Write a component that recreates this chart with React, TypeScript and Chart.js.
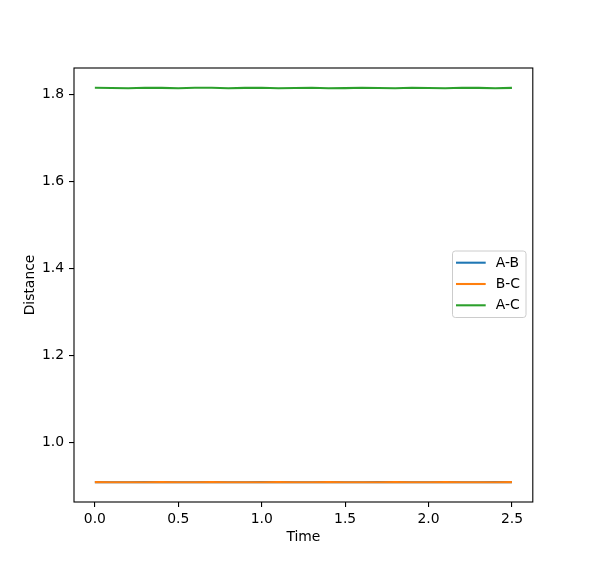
import React, { useEffect, useRef } from "react";
import { Chart, registerables } from "chart.js";

Chart.register(...registerables);

const times = [0.0, 0.1, 0.2, 0.3, 0.4, 0.5, 0.6, 0.7, 0.8, 0.9, 1.0, 1.1, 1.2, 1.3, 1.4, 1.5, 1.6, 1.7, 1.8, 1.9, 2.0, 2.1, 2.2, 2.3, 2.4, 2.5];
const distAB = [0.9081, 0.9079, 0.9078, 0.9080, 0.9081, 0.9078, 0.9079, 0.9081, 0.9079, 0.9078, 0.9080, 0.9081, 0.9078, 0.9079, 0.9081, 0.9079, 0.9078, 0.9080, 0.9081, 0.9078, 0.9079, 0.9081, 0.9079, 0.9078, 0.9080, 0.9081];
const distBC = [0.9080, 0.9078, 0.9078, 0.9079, 0.9080, 0.9078, 0.9078, 0.9080, 0.9079, 0.9078, 0.9079, 0.9080, 0.9078, 0.9078, 0.9080, 0.9079, 0.9078, 0.9079, 0.9080, 0.9078, 0.9078, 0.9080, 0.9079, 0.9078, 0.9079, 0.9080];
const distAC = [1.8165, 1.8158, 1.8152, 1.8163, 1.8160, 1.8150, 1.8162, 1.8162, 1.8151, 1.8160, 1.8163, 1.8152, 1.8158, 1.8164, 1.8153, 1.8155, 1.8165, 1.8156, 1.8152, 1.8164, 1.8159, 1.8151, 1.8162, 1.8161, 1.8150, 1.8160];
const seriesNames = ["A-B", "B-C", "A-C"];
const seriesColors = ["#1f77b4", "#ff7f0e", "#2ca02c"];
const xTicks = [0.0, 0.5, 1.0, 1.5, 2.0, 2.5];
const yTicks = [1.0, 1.2, 1.4, 1.6, 1.8];
const xLabel = "Time";
const yLabel = "Distance";

const FONT = "DejaVu Sans";
const FS = 13.9;

const framePlugin = {
  id: "frameLegend",
  afterDraw(chart: any) {
    const { ctx, chartArea } = chart;
    const { left, right, top, bottom } = chartArea;
    ctx.save();
    ctx.strokeStyle = "#000";
    ctx.lineWidth = 1.1;
    ctx.strokeRect(left, top, right - left, bottom - top);

    // legend
    const bx = 452.5, by = 251, bw = 73.5, bh = 66.5, r = 2.8;
    ctx.beginPath();
    ctx.moveTo(bx + r, by);
    ctx.lineTo(bx + bw - r, by);
    ctx.quadraticCurveTo(bx + bw, by, bx + bw, by + r);
    ctx.lineTo(bx + bw, by + bh - r);
    ctx.quadraticCurveTo(bx + bw, by + bh, bx + bw - r, by + bh);
    ctx.lineTo(bx + r, by + bh);
    ctx.quadraticCurveTo(bx, by + bh, bx, by + bh - r);
    ctx.lineTo(bx, by + r);
    ctx.quadraticCurveTo(bx, by, bx + r, by);
    ctx.closePath();
    ctx.fillStyle = "rgba(255,255,255,0.8)";
    ctx.fill();
    ctx.strokeStyle = "#cccccc";
    ctx.lineWidth = 1;
    ctx.stroke();

    const rows = [262.7, 284, 305.3];
    ctx.font = `${FS}px "${FONT}"`;
    ctx.textBaseline = "middle";
    ctx.textAlign = "left";
    seriesNames.forEach((name, i) => {
      ctx.strokeStyle = seriesColors[i];
      ctx.lineWidth = 2.08;
      ctx.beginPath();
      ctx.moveTo(456, rows[i]);
      ctx.lineTo(485.7, rows[i]);
      ctx.stroke();
      ctx.fillStyle = "#000";
      ctx.fillText(name, 495.7, rows[i] + 0.5);
    });
    ctx.restore();
  },
};

export default function App() {
  const ref = useRef<HTMLCanvasElement | null>(null);
  useEffect(() => {
    document.body.style.margin = "0";
    if (!ref.current) return;
    const series = [distAB, distBC, distAC];
    const chart = new Chart(ref.current, {
      type: "line",
      data: {
        datasets: series.map((vals, i) => ({
          label: seriesNames[i],
          data: times.map((t, j) => ({ x: t, y: vals[j] })),
          borderColor: seriesColors[i],
          backgroundColor: seriesColors[i],
          borderWidth: 2.08,
          pointRadius: 0,
          tension: 0,
          fill: false,
          order: 3 - i,
        })),
      },
      options: {
        responsive: false,
        animation: false,
        layout: { padding: { top: 68, right: 59.2, left: 0, bottom: 0 } },
        plugins: { legend: { display: false }, tooltip: { enabled: false } },
        scales: {
          x: {
            type: "linear",
            min: -0.125,
            max: 2.625,
            afterBuildTicks: (s: any) => {
              s.ticks = xTicks.map((v) => ({ value: v }));
            },
            afterFit: (s: any) => {
              s.height = 62;
            },
            grid: { drawOnChartArea: false, drawTicks: true, tickLength: 5, color: "#000", lineWidth: 1.1 },
            border: { display: false },
            ticks: {
              color: "#000",
              font: { family: FONT, size: FS },
              padding: 4,
              maxRotation: 0,
              autoSkip: false,
              callback: (v: any) => Number(v).toFixed(1),
            },
            title: {
              display: true,
              text: xLabel,
              color: "#000",
              font: { family: FONT, size: FS },
              padding: { top: 0, bottom: 17.8 },
            },
          },
          y: {
            type: "linear",
            min: 0.8623,
            max: 1.8618,
            afterBuildTicks: (s: any) => {
              s.ticks = yTicks.map((v) => ({ value: v }));
            },
            afterFit: (s: any) => {
              s.width = 74;
            },
            grid: { drawOnChartArea: false, drawTicks: true, tickLength: 5, color: "#000", lineWidth: 1.1 },
            border: { display: false },
            ticks: {
              color: "#000",
              font: { family: FONT, size: FS },
              padding: 5,
              autoSkip: false,
              callback: (v: any) => Number(v).toFixed(1),
            },
            title: {
              display: true,
              text: yLabel,
              color: "#000",
              font: { family: FONT, size: FS },
              padding: { top: 21.7, bottom: 0 },
            },
          },
        },
      },
      plugins: [framePlugin],
    });
    return () => chart.destroy();
  }, []);
  return (
    <div style={{ position: "absolute", left: 0, top: 0, width: 592, height: 564, background: "#fff" }}>
      <canvas ref={ref} width={592} height={564} style={{ width: 592, height: 564 }} />
    </div>
  );
}
